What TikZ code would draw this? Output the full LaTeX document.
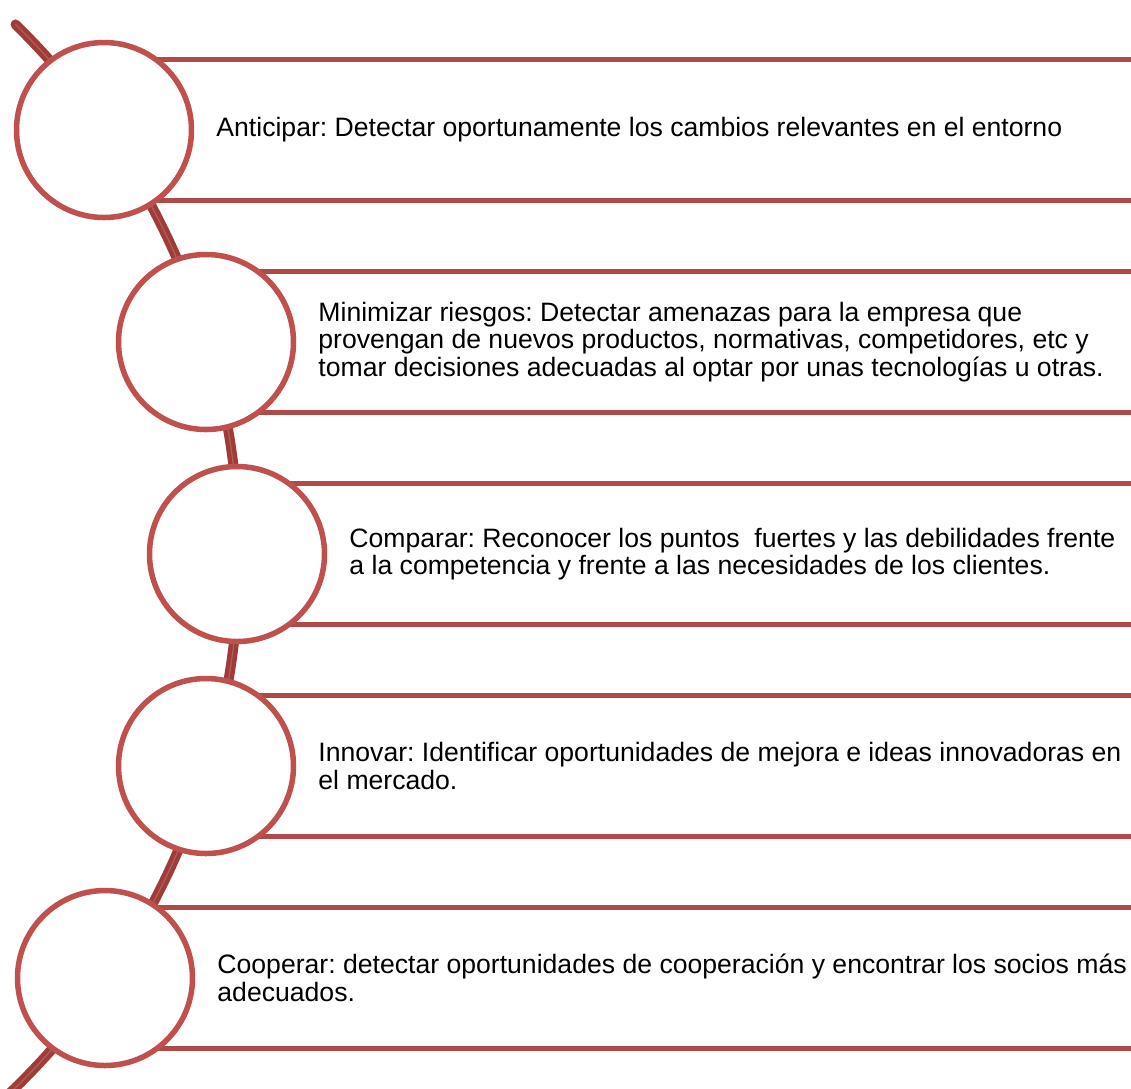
\documentclass[tikz,border=0pt]{standalone}
\usepackage{fontspec}
\setmainfont{Liberation Sans}
\frenchspacing
\usetikzlibrary{positioning}
\definecolor{bandred}{RGB}{176,74,71}
\definecolor{ringred}{RGB}{192,80,77}
\definecolor{spinered}{RGB}{158,60,58}
\definecolor{spineshine}{RGB}{184,92,90}
\tikzset{ringnode/.style={circle, fill=white, draw=ringred, line width=5.5pt, minimum size=175pt, inner sep=0pt},
textnode/.style={anchor=west, align=left, inner sep=0pt, font=\fontsize{26.6}{27.4}\selectfont}}

\begin{document}
\begin{tikzpicture}[x=1pt, y=1pt,
                bandline/.style={bandred, line width=5.5pt}
            ]
                \useasboundingbox (0,0) rectangle (1131,-1088);

                % Spine
                \draw[spinered, line width=10pt, line cap=round] (-505,-556) ++(45.6:744) arc[start angle=45.6, end angle=-48, radius=744];
                \draw[spineshine, line width=1.2pt] (-505,-556) ++(45.6:744) arc[start angle=45.6, end angle=-48, radius=744];

                % Bands
                \foreach \cx/\cy in {104/130, 206/342, 237/554, 206/766, 105/978} {
\draw[bandline] (\cx, -\cy+70.5) -- (1131, -\cy+70.5);
\draw[bandline] (\cx, -\cy-70.5) -- (1131, -\cy-70.5);
}

                % Circles
                \node[ringnode] (anticipar) at (104,-130) {};
                \node[ringnode] (minimizar) at (206,-342) {};
                \node[ringnode] (comparar) at (237,-554) {};
                \node[ringnode] (innovar) at (206,-766) {};
                \node[ringnode] (cooperar) at (105,-978) {};

                % Texts
                \node[textnode, right=22pt of anticipar] (anticipartext) {Anticipar: Detectar oportunamente los cambios relevantes en el entorno};
                \node[textnode, right=22pt of minimizar] (minimizartext) {Minimizar riesgos: Detectar amenazas para la empresa que\\provengan de nuevos productos, normativas, competidores, etc y\\tomar decisiones adecuadas al optar por unas tecnologías u otras.};
                \node[textnode, right=22pt of comparar] (comparartext) {Comparar: Reconocer los puntos \ fuertes y las debilidades frente\\a la competencia y frente a las necesidades de los clientes.};
                \node[textnode, right=22pt of innovar] (innovartext) {Innovar: Identificar oportunidades de mejora e ideas innovadoras en\\el mercado.};
                \node[textnode, right=22pt of cooperar] (cooperartext) {Cooperar: detectar oportunidades de cooperación y encontrar los socios más\\adecuados.};
            \end{tikzpicture}
\end{document}
